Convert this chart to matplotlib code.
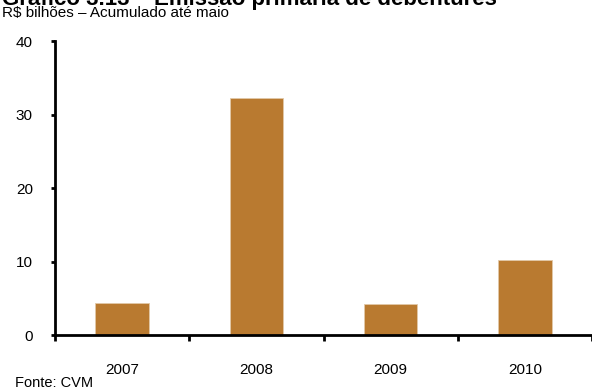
import matplotlib.pyplot as plt
from matplotlib.ticker import FixedLocator

plt.rcParams['font.family'] = ['Liberation Sans', 'DejaVu Sans']

### Emissão primária de debêntures, R$ bilhões acumulado até maio
anos = ['2007', '2008', '2009', '2010']
valores = [4.3, 32.2, 4.2, 10.2]
yticks = [0, 10, 20, 30, 40]

fig = plt.figure(figsize=(5.92, 3.92), dpi=100)
ax = fig.add_axes([0.093, 0.1454, 0.907, 0.75])

pos = list(range(len(anos)))
ax.bar(pos, valores, width=0.4, color='#B97A30', edgecolor='#E2C9A8', linewidth=0.6, zorder=2)

ax.set_xlim(-0.5, len(anos) - 0.5)
ax.set_ylim(0, 40)
ax.set_yticks(yticks)

# ticks on category boundaries, labels centred under the bars
ax.xaxis.set_major_locator(FixedLocator([p - 0.5 for p in pos] + [len(anos) - 0.5]))
ax.xaxis.set_major_formatter(plt.NullFormatter())
ax.xaxis.set_minor_locator(FixedLocator(pos))
ax.set_xticklabels(anos, minor=True)
ax.tick_params(axis='x', which='major', direction='out', length=4, width=2)
ax.tick_params(axis='x', which='minor', length=0, pad=20, labelsize=11)
ax.tick_params(axis='y', direction='out', length=3, width=2, pad=13, labelsize=11)

for s in ['top', 'right']:
    ax.spines[s].set_visible(False)
ax.spines['left'].set_linewidth(2)
ax.spines['bottom'].set_linewidth(2)
ax.spines['bottom'].set_zorder(3)

fig.text(0.003, 1 - 5 / 392, 'Gráfico 3.13 – Emissão primária de debêntures', fontsize=16,
         fontweight='bold', va='baseline', ha='left')
fig.text(0.003, 1 - 17 / 392, 'R$ bilhões – Acumulado até maio', fontsize=11,
         va='baseline', ha='left')
fig.text(0.025, 0.005, 'Fonte: CVM', fontsize=10.5, va='bottom', ha='left')

fig.savefig('out.png', dpi=100)
